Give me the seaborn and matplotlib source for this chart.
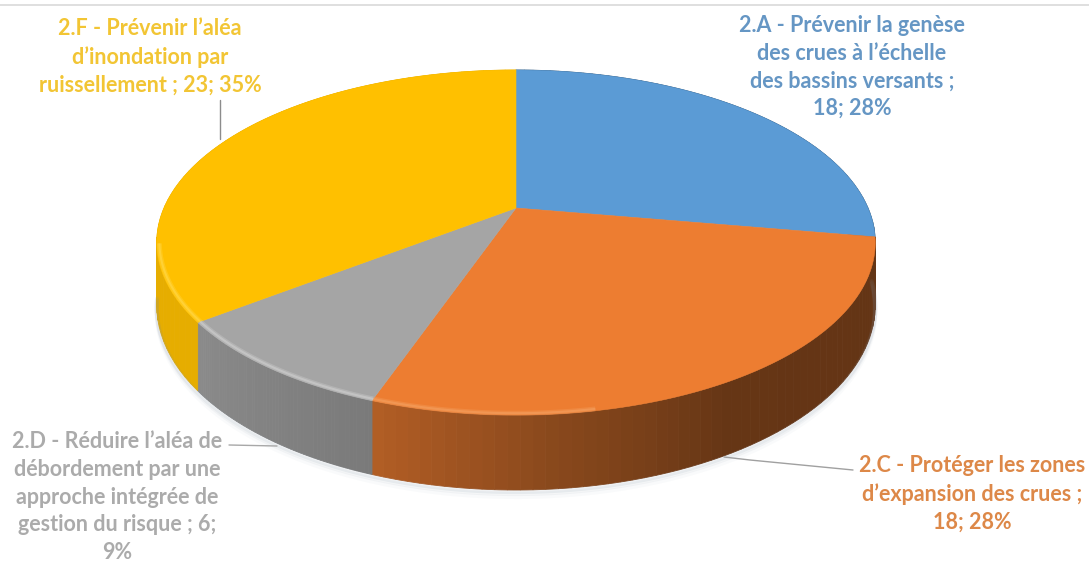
import numpy as np
import matplotlib
matplotlib.use("Agg")
import matplotlib.pyplot as plt
import seaborn as sns

# data
labels = ["2.A - Prévenir la genèse\ndes crues à l’échelle\ndes bassins versants ;\n18; 28%",
          "2.C - Protéger les zones\nd’expansion des crues ;\n18; 28%",
          "2.D - Réduire l’aléa de\ndébordement par une\napproche intégrée de\ngestion du risque ; 6;\n9%",
          "2.F - Prévenir l’aléa\nd’inondation par\nruissellement ; 23; 35%"]
values = [18, 18, 6, 23]
top_colors = ["#5B9BD5", "#ED7D31", "#A5A5A5", "#FFC000"]
text_colors = ["#6596C4", "#DD8848", "#ABABAB", "#F2C534"]

sns.set_theme(style="white")
plt.rcParams["font.family"] = ["Lato", "DejaVu Sans"]

# geometry of the tilted disc, in pixels
CX, CY = 516, 208
RX, RY = 352, 165.6
PERSP = 0.2
DEPTH = 60


def project(theta, r=1.0):
    # theta clockwise from 12 o'clock
    u, v = r * np.sin(theta), r * np.cos(theta)
    w = 1 + PERSP * v
    return CX + RX * u / w, CY - RY * v / w


def side_shade(idx, t):
    # t goes 0..1 along the slice, clockwise
    if idx == 1:
        return np.interp(t, [0, 0.5, 0.75, 1], [0.42, 0.43, 0.58, 0.76])
    if idx == 2:
        return np.interp(t, [0, 1], [0.74, 0.84])
    if idx == 3:
        return 0.9
    return 0.5


fig, ax = plt.subplots(figsize=(10.89, 5.62), dpi=100)
fig.subplots_adjust(0, 0, 1, 1)
ax.set_xlim(0, 1089)
ax.set_ylim(562, 0)
ax.axis("off")
ax.axhline(5, color="#D9D9D9", lw=1.2)

fracs = np.array(values) / sum(values)
edges = np.concatenate([[0], np.cumsum(fracs)]) * 2 * np.pi

# soft shadow under the disc
th = np.linspace(np.pi * 0.52, np.pi * 1.45, 200)
xs, ys = project(th)
w = 1 + PERSP * np.cos(th)
for off, a in [(7, 0.04), (4, 0.07), (2, 0.12)]:
    ax.plot(xs, ys + DEPTH / w + off, color="#7F8FA0", lw=3, alpha=a, solid_capstyle="round")

# side walls
for i, col in enumerate(top_colors):
    base = np.array(matplotlib.colors.to_rgb(col))
    ts = np.linspace(0, 1, 61)
    th = edges[i] + ts * (edges[i + 1] - edges[i])
    for k in range(60):
        seg = np.linspace(th[k], th[k + 1], 3)
        x, y = project(seg)
        drop = DEPTH / (1 + PERSP * np.cos(seg))
        ax.fill(np.r_[x, x[::-1]], np.r_[y, (y + drop)[::-1]],
                color=base * side_shade(i, ts[k]), lw=0.6)

# top faces
for i, col in enumerate(top_colors):
    th = np.linspace(edges[i], edges[i + 1], 200)
    x, y = project(th)
    ax.fill(np.r_[CX, x], np.r_[CY, y], color=col, lw=0.4)

# lighter bevel along the front rim
rims = [(1, 0.7, 1.0, "#F4A060"), (2, 0.0, 1.0, "#CFCFCF"), (3, 0.0, 0.2, "#FFD84A")]
for i, t0, t1, c in rims:
    th = np.linspace(edges[i] + t0 * (edges[i + 1] - edges[i]),
                     edges[i] + t1 * (edges[i + 1] - edges[i]), 100)
    x, y = project(th, 0.993)
    ax.plot(x, y, color=c, lw=3.5, alpha=0.35, solid_capstyle="butt")
    ax.plot(x, y, color=c, lw=1.5, alpha=0.6, solid_capstyle="butt")

# leader lines
ax.plot([220, 220], [100, 139], color="#8C8C8C", lw=1)
ax.plot([229, 277], [445, 446], color="#A8A8A8", lw=1)
ax.plot([724, 750, 853], [457, 460, 470], color="#A0A0A0", lw=1)

# labels
spots = [(852, 67), (972, 494), (117, 497), (150, 57)]
for txt, col, (x, y) in zip(labels, text_colors, spots):
    ax.text(x, y, txt, color=col, fontsize=15.5, fontweight="bold", ha="center",
            va="center", linespacing=1.4)

fig.savefig("out.png", dpi=100)
